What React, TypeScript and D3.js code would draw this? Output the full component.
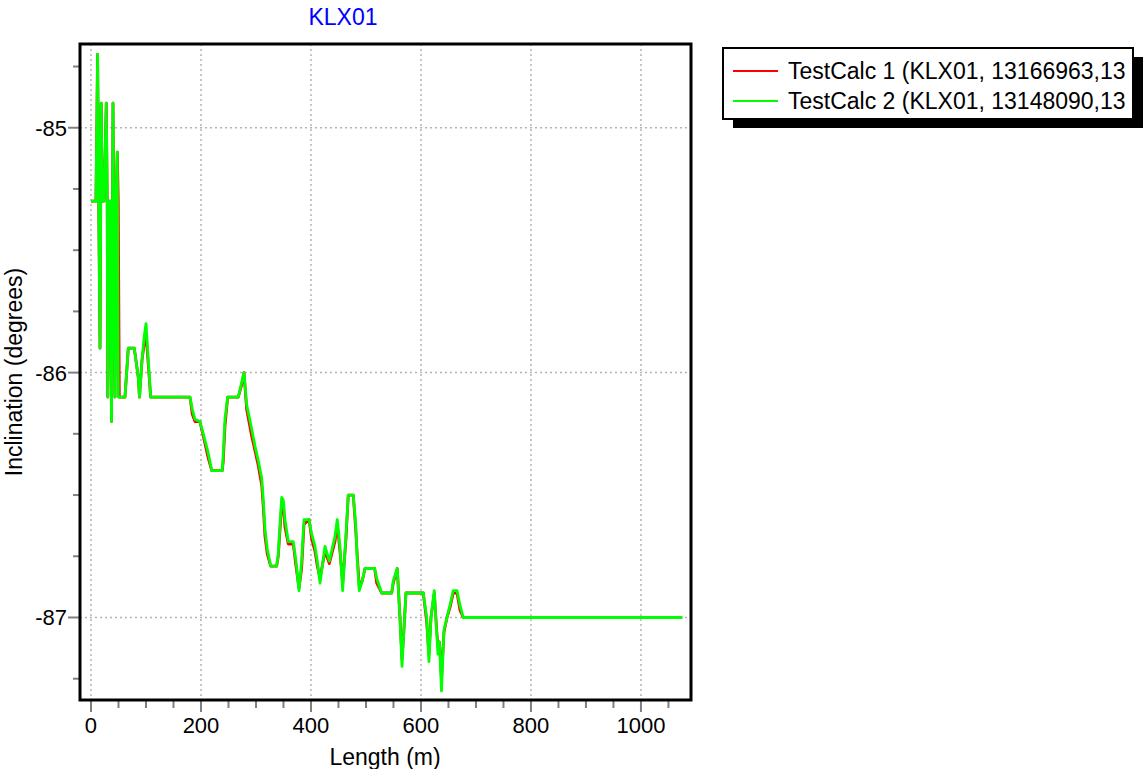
import React from 'react'
import * as d3 from 'd3'

// Borehole length (m), shared by both calculations
const lengthM = [0, 9, 12, 14, 16.4, 18.5, 20, 21.8, 23.6, 27.8, 29.5, 30.5, 32.7, 34.5, 37.3, 40, 41.8, 43.6, 45.5, 47.8,
  49.6, 51.5, 61.8, 67.8, 78.7, 86, 88.2, 92.7, 96.9, 100, 108.5, 180, 184.2, 189, 198, 204.2, 213.3, 219.5, 238.7, 240.5,
  243.6, 248.5, 267.8, 274, 278.2, 283, 292.2, 298.2, 304.2, 310.4, 313.3, 316.4, 320.5, 326.7, 337.6, 340.5, 346.7, 349.6,
  352.7, 358.7, 367.8, 372.7, 378.2, 383, 387.3, 396.4, 401.3, 407.3, 411.5, 416.4, 425.5, 433.3, 443.6, 447.8, 452.7, 457.6,
  463.6, 467.8, 476.9, 481.3, 484.2, 487.8, 493.3, 498.2, 515.8, 519.5, 528.5, 546.7, 549.6, 556.9, 561.8, 565.5, 569, 572.7,
  604.2, 607.3, 610.4, 614.5, 618.2, 624.2, 628.2, 630.9, 633.6, 637.3, 641.8, 647.3, 652.7, 658.7, 665.5, 670.9, 676.9, 1075]

// TestCalc 1 inclination (red)
const calc1 = [-85.3, -85.3, -84.7, -85.3, -85.9, -84.9, -85.2, -85.3, -85.3, -84.9, -85.3, -86.1, -85.3, -85.3, -86.2, -84.9, -85.5, -86.1, -85.3, -85.1,
  -85.3, -86.1, -86.1, -85.9, -85.9, -86.02, -86.1, -85.95, -85.88, -85.84, -86.1, -86.1, -86.17, -86.2, -86.2, -86.26, -86.35, -86.4, -86.4, -86.36,
  -86.22, -86.1, -86.1, -86.05, -86.0, -86.15, -86.26, -86.32, -86.38, -86.46, -86.55, -86.67, -86.74, -86.79, -86.79, -86.75, -86.54, -86.54,
  -86.63, -86.7, -86.7, -86.79, -86.88, -86.8, -86.62, -86.6, -86.68, -86.73, -86.79, -86.84, -86.73, -86.78, -86.69, -86.62, -86.73, -86.86,
  -86.68, -86.5, -86.5, -86.64, -86.75, -86.87, -86.85, -86.8, -86.8, -86.86, -86.9, -86.9, -86.86, -86.8, -87.0, -87.17, -87.05, -86.9,
  -86.9, -86.96, -87.02, -87.15, -87.0, -86.9, -87.04, -87.12, -87.1, -87.25, -87.06, -87.0, -86.96, -86.9, -86.9, -86.97, -87.0, -87.0]

// TestCalc 2 inclination (green)
const calc2 = [-85.3, -85.3, -84.7, -85.3, -85.9, -84.9, -85.2, -85.3, -85.3, -84.9, -85.3, -86.1, -85.3, -85.3, -86.2, -84.9, -85.5, -86.1, -85.3, -85.1,
  -86.1, -86.1, -86.1, -85.9, -85.9, -86.02, -86.1, -85.95, -85.85, -85.8, -86.1, -86.1, -86.15, -86.19, -86.2, -86.25, -86.33, -86.4, -86.4, -86.33,
  -86.19, -86.1, -86.1, -86.04, -86.0, -86.13, -86.23, -86.3, -86.36, -86.43, -86.52, -86.64, -86.72, -86.79, -86.79, -86.74, -86.51, -86.52,
  -86.6, -86.69, -86.69, -86.77, -86.89, -86.77, -86.6, -86.6, -86.66, -86.71, -86.77, -86.86, -86.71, -86.77, -86.67, -86.6, -86.71, -86.89,
  -86.66, -86.5, -86.5, -86.62, -86.77, -86.89, -86.85, -86.8, -86.8, -86.84, -86.9, -86.9, -86.85, -86.8, -87.0, -87.2, -87.05, -86.9,
  -86.9, -86.95, -87.0, -87.18, -87.0, -86.89, -87.05, -87.15, -87.1, -87.3, -87.05, -87.0, -86.95, -86.89, -86.89, -86.95, -87.0, -87.0]

const xTicks = [0, 200, 400, 600, 800, 1000]
const yTicks = [-85, -86, -87]
const seriesNames = ['TestCalc 1 (KLX01, 13166963,13', 'TestCalc 2 (KLX01, 13148090,13']
const seriesColors = ['#ff0000', '#00ff00']

const W = 1145
const H = 769
const plot = { left: 80, top: 44, right: 691, bottom: 700 }
const font = 'Arial, "Liberation Sans", sans-serif'

export default function App() {
  const x = d3.scaleLinear().domain([-20, 1091]).range([plot.left, plot.right])
  const y = d3.scaleLinear().domain([-84.658, -87.337]).range([plot.top, plot.bottom])

  const line = d3
    .line<number>()
    .x((_, i) => x(lengthM[i]))
    .y(d => y(d))

  const xMinor = d3.range(0, 1051, 50)
  const yMinor = d3.range(-84.75, -87.3, -0.25)

  return (
    <svg width={W} height={H} style={{ position: 'absolute', left: 0, top: 0, background: '#fff' }} fontFamily={font}>
      <defs>
        <clipPath id="plotClip">
          <rect x={plot.left} y={plot.top} width={plot.right - plot.left} height={plot.bottom - plot.top} />
        </clipPath>
        <clipPath id="legendClip">
          <rect x={723} y={48} width={408} height={70} />
        </clipPath>
      </defs>

      <text x={343} y={25} textAnchor="middle" fontSize={23} fill="#0000ff">KLX01</text>

      {/* grid */}
      <g stroke="#b4b4b4" strokeWidth={1.5} strokeDasharray="2,3">
        {xTicks.map(t => (
          <line key={'gx' + t} x1={x(t)} x2={x(t)} y1={plot.top} y2={plot.bottom} />
        ))}
        {yTicks.map(t => (
          <line key={'gy' + t} x1={plot.left} x2={plot.right} y1={y(t)} y2={y(t)} />
        ))}
      </g>

      {/* data */}
      <g clipPath="url(#plotClip)" fill="none" strokeWidth={2.8} strokeLinejoin="round">
        <path d={line(calc1) || ''} stroke={seriesColors[0]} />
        <path d={line(calc2) || ''} stroke={seriesColors[1]} />
      </g>

      {/* ticks */}
      <g stroke="#808080" strokeWidth={2}>
        {xMinor.map(t => {
          const major = t % 200 === 0
          return <line key={'tx' + t} x1={x(t)} x2={x(t)} y1={plot.bottom} y2={plot.bottom + (major ? 12 : 8)} />
        })}
        {yMinor.map(t => {
          const major = Math.abs(t - Math.round(t)) < 0.01
          return <line key={'ty' + t} x1={plot.left - (major ? 12 : 7)} x2={plot.left} y1={y(t)} y2={y(t)} />
        })}
      </g>

      <rect x={plot.left} y={plot.top} width={plot.right - plot.left} height={plot.bottom - plot.top}
        fill="none" stroke="#000" strokeWidth={3} />

      {/* tick labels */}
      <g fontSize={22} fill="#000">
        {xTicks.map(t => (
          <text key={'lx' + t} x={x(t)} y={733} textAnchor="middle">{t}</text>
        ))}
        {yTicks.map(t => (
          <text key={'ly' + t} x={67} y={y(t) + 8} textAnchor="end">{t}</text>
        ))}
      </g>

      <text x={385} y={765} textAnchor="middle" fontSize={23}>Length (m)</text>
      <text transform={`translate(22,${(plot.top + plot.bottom) / 2}) rotate(-90)`} textAnchor="middle" fontSize={23}>
        Inclination (degrees)
      </text>

      {/* legend */}
      <rect x={733} y={57} width={410} height={71} fill="#000" />
      <rect x={723} y={48} width={410} height={71} fill="#fff" stroke="#000" strokeWidth={2} />
      <g clipPath="url(#legendClip)">
        {seriesNames.map((name, i) => (
          <g key={name} transform={`translate(0,${71 + i * 30})`}>
            <line x1={733} x2={778} y1={0} y2={0} stroke={seriesColors[i]} strokeWidth={2} />
            <text x={788} y={8} fontSize={23}>{name}</text>
          </g>
        ))}
      </g>
    </svg>
  )
}
